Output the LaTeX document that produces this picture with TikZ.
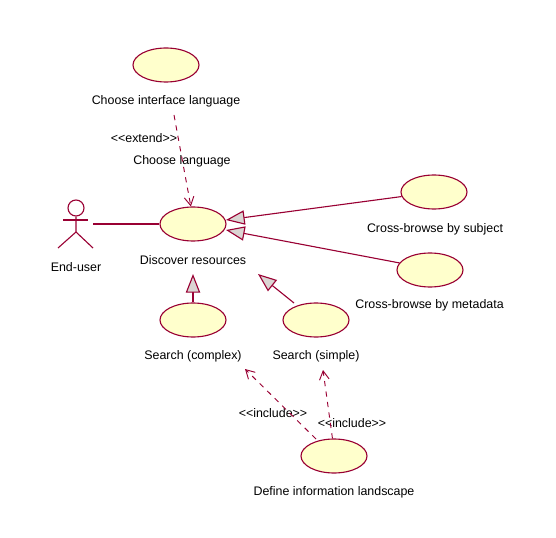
\documentclass[tikz,border=0pt]{standalone}
\usepackage{fontspec}
\setmainfont{Liberation Sans}
\usetikzlibrary{arrows.meta,shapes.geometric}
\definecolor{ucLine}{HTML}{990033}
\definecolor{ucFill}{HTML}{FFFFCC}
\definecolor{ucTip}{HTML}{DBD5D3}
\tikzset{
  uc diagram/.style={font=\fontsize{10.6pt}{13pt}\selectfont, text=black,
    line width=0.95pt},
  uc case/.style={ellipse, draw=ucLine, fill=ucFill, line width=0.95pt,
    minimum width=1.98cm, minimum height=1.02cm, inner sep=0pt},
  uc label/.style={inner sep=0pt},
  uc actor/.style={draw=ucLine, line width=0.95pt},
  uc assoc/.style={draw=ucLine, line width=0.95pt},
  uc general/.style={draw=ucLine, line width=0.95pt,
    -{Triangle[length=5.6mm,width=4.3mm,fill=ucTip]}},
  uc depend/.style={draw=ucLine, line width=0.8pt, dash pattern=on 4.5pt off 4.5pt,
    -{Straight Barb[length=2.6mm,width=2.9mm]}}
}
\begin{document}
\begin{tikzpicture}[uc diagram,x=0.03cm,y=-0.03cm]
\useasboundingbox (0,0) rectangle (556,538);
% use cases
\foreach \name/\x/\y in {interface/166/65,discover/193/224,subject/434/192,
  metadata/430/270,complex/193/320,simple/316/320,landscape/334/456}{
  \node[uc case] (\name) at (\x,\y) {};
}
% texts
\node[uc label] (interfaceText) at (166,101) {Choose interface language};
\node[uc label] (discoverText) at (193,260) {Discover resources};
\node[uc label] (subjectText) at (435,229) {Cross-browse by subject};
\node[uc label] (metadataText) at (429.5,305) {Cross-browse by metadata};
\node[uc label] (complexText) at (193,356) {Search (complex)};
\node[uc label] (simpleText) at (316,356) {Search (simple)};
\node[uc label] (landscapeText) at (334,492) {Define information landscape};
\node[uc label] (actorText) at (76,267) {End-user};
\node[uc label] (extendText) at (144,138) {<{}<extend>{}>};
\node[uc label] (languageText) at (182,161) {Choose language};
\node[uc label] (includeLeftText) at (273,413) {<{}<include>{}>};
\node[uc label] (includeRightText) at (352,423) {<{}<include>{}>};
% actor
\node[circle, uc actor, minimum size=0.48cm, inner sep=0pt] (actorHead) at (76,208) {};
\coordinate (actorHip) at (76,232);
\coordinate (actorHand) at (93,224);
\draw[uc actor] (actorHead) -- (actorHip) -- (58,248);
\draw[uc actor] (actorHip) -- (93,248);
\draw[uc actor] (63,220) -- (88,220);
\draw[uc assoc] (actorHand) -- (discover);
% generalisations
\coordinate (subjectTip) at (226,220);
\coordinate (metadataTip) at (226,230);
\coordinate (complexTip) at (193,274);
\coordinate (simpleTip) at (258,274);
\coordinate (simpleFoot) at (294,303);
\draw[uc general] (subject.188) -- (subjectTip);
\draw[uc general] (metadata.167) -- (metadataTip);
\draw[uc general] (complex) -- (complexTip);
\draw[uc general] (simpleFoot) -- (simpleTip);
% dependencies
\coordinate (extendFoot) at (174,115);
\coordinate (includeLeftFoot) at (316,439);
\coordinate (includeLeftTip) at (245,369);
\coordinate (includeRightTip) at (323,370);
\draw[uc depend] (extendFoot) -- (discover.97);
\draw[uc depend] (includeLeftFoot) -- (includeLeftTip);
\draw[uc depend] (landscape.95) -- (includeRightTip);
\end{tikzpicture}
\end{document}
